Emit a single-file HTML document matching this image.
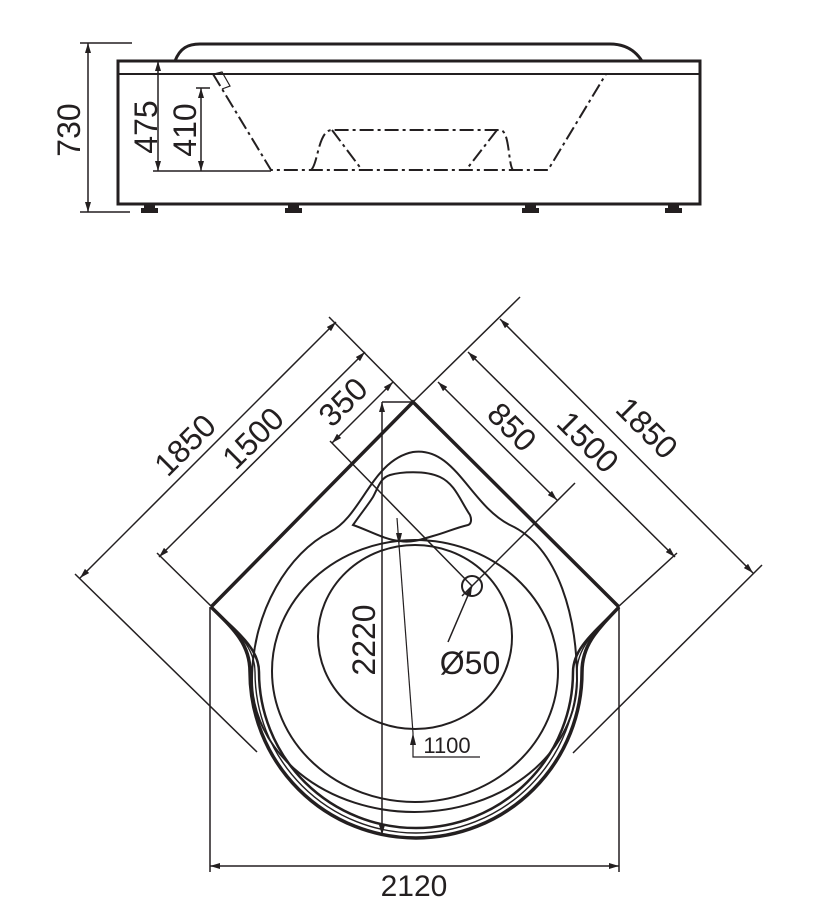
<!DOCTYPE html>
<html><head><meta charset="utf-8"><style>
html,body{margin:0;padding:0;background:#fff;}
svg{display:block;}
text{font-family:"Liberation Sans",sans-serif;fill:#231f20;}
</style></head><body>
<svg width="839" height="920" viewBox="0 0 839 920" xmlns="http://www.w3.org/2000/svg">
<defs>
<marker id="a" viewBox="0 0 10 6" refX="10" refY="3" markerWidth="10" markerHeight="6" markerUnits="userSpaceOnUse" orient="auto-start-reverse">
<path d="M0,0 L10,3 L0,6 Z" fill="#231f20"/>
</marker>
</defs>
<g stroke="#231f20" fill="none" stroke-linecap="butt">
<rect x="118" y="61" width="582" height="143" stroke-width="3"/>
<line x1="118" y1="74" x2="700" y2="74" stroke-width="2"/>
<path d="M175,61 C180,48 188,44 200,44 L610,44 C625,44 635,50 642,61" stroke-width="3"/>
<g fill="#231f20" stroke="none">
<rect x="144" y="204" width="11" height="4"/><rect x="141" y="208" width="17" height="5"/>
<rect x="288" y="204" width="11" height="4"/><rect x="285" y="208" width="17" height="5"/>
<rect x="525" y="204" width="11" height="4"/><rect x="522" y="208" width="17" height="5"/>
<rect x="668" y="204" width="11" height="4"/><rect x="665" y="208" width="17" height="5"/>
</g>
<g stroke-width="2" stroke-dasharray="14,4,3,4">
<path d="M213,74 L271,170 L548,170 L606,74"/>
<path d="M311,170 C318,165 318,130 332,130 L500,130 C510,130 508,165 513,170"/>
<path d="M332,130 L362,170 M497,130 L466,170"/>
</g>
<path d="M214,74 L222,72 L230,86 L222,89" stroke-width="1.2"/>
<line x1="153" y1="171" x2="271" y2="171" stroke-width="1.5"/>
<line x1="80" y1="43" x2="132" y2="43" stroke-width="1.5"/>
<line x1="80" y1="212" x2="130" y2="212" stroke-width="1.5"/>
<line x1="88" y1="43" x2="88" y2="212" stroke-width="1.5" marker-start="url(#a)" marker-end="url(#a)"/>
<line x1="158" y1="61" x2="158" y2="171" stroke-width="1.5" marker-start="url(#a)" marker-end="url(#a)"/>
<line x1="201" y1="88" x2="201" y2="171" stroke-width="1.5" marker-start="url(#a)" marker-end="url(#a)"/>
<line x1="196" y1="88" x2="210" y2="88" stroke-width="1.5"/>

<path d="M211,607 L413,402 L619,607" stroke-width="3.5"/>
<path d="M211,607 C235,630 250,645 250,672 A166,166 0 0 0 582,672 C582,645 597,630 619,607" stroke-width="3.5"/>
<path d="M213,609 C238,632 255,648 255,672 A161,161 0 0 0 577,672 C577,648 594,632 617,609" stroke-width="1.4"/>
<path d="M215,611 C241,635 259,650 259,672 A157,156 0 0 0 573,672 C573,650 591,635 615,611" stroke-width="2.5"/>
<path d="M252,680 C252,610 290,552 330,532 C362,516 372,460 413,452 C455,446 470,505 510,525 C560,548 577,620 577,680 A162.5,132 0 0 1 252,680 Z" stroke-width="2"/>
<ellipse cx="415" cy="671" rx="143" ry="131" stroke-width="2"/>
<ellipse cx="415" cy="637" rx="97" ry="92" stroke-width="2"/>
<path d="M353,525 C362,512 368,505 373,497 C378,488 380,478 390,475 C400,472 425,470 440,477 C455,484 460,500 470,515 C472,520 471,524 468,525 C455,528 445,533 433,536 C420,540 410,543 400,541 C385,540 368,530 353,525 Z" stroke-width="2"/>
<line x1="382" y1="402" x2="413" y2="402" stroke-width="1.5"/>
<line x1="382" y1="402" x2="382" y2="835" stroke-width="1.5" marker-start="url(#a)" marker-end="url(#a)"/>
<line x1="397" y1="518" x2="413" y2="733" stroke-width="1.2"/>
<path d="M396,533 L399,545 L402,533 Z M410,745 L413,733 L416,745 Z" fill="#231f20" stroke="none"/>
<path d="M413,733 L413,757 L480,757" stroke-width="1.2"/>
<circle cx="472" cy="586" r="10" stroke-width="2"/>
<line x1="575" y1="483" x2="462" y2="596" stroke-width="1.5"/>
<line x1="472" y1="586" x2="448" y2="642" stroke-width="1.5" marker-start="url(#a)"/>
<line x1="330" y1="441" x2="472" y2="586" stroke-width="1.5"/>
<line x1="329" y1="317" x2="413" y2="402" stroke-width="1.5"/>
<line x1="75" y1="574" x2="257" y2="752" stroke-width="1.5"/>
<line x1="157" y1="553" x2="212" y2="607" stroke-width="1.5"/>
<line x1="80" y1="578" x2="336" y2="322" stroke-width="1.5" marker-start="url(#a)" marker-end="url(#a)"/>
<line x1="159" y1="557" x2="365" y2="352" stroke-width="1.5" marker-start="url(#a)" marker-end="url(#a)"/>
<line x1="332" y1="443" x2="393" y2="382" stroke-width="1.5" marker-start="url(#a)" marker-end="url(#a)"/>
<line x1="520" y1="297" x2="413" y2="402" stroke-width="1.5"/>
<line x1="762" y1="565" x2="573" y2="753" stroke-width="1.5"/>
<line x1="677" y1="553" x2="618" y2="607" stroke-width="1.5"/>
<line x1="500" y1="319" x2="753" y2="573" stroke-width="1.5" marker-start="url(#a)" marker-end="url(#a)"/>
<line x1="468" y1="352" x2="675" y2="557" stroke-width="1.5" marker-start="url(#a)" marker-end="url(#a)"/>
<line x1="438" y1="382" x2="557" y2="500" stroke-width="1.5" marker-start="url(#a)" marker-end="url(#a)"/>
<line x1="210" y1="607" x2="210" y2="872" stroke-width="1.5"/>
<line x1="619" y1="607" x2="619" y2="872" stroke-width="1.5"/>
<line x1="210" y1="866" x2="619" y2="866" stroke-width="1.5" marker-start="url(#a)" marker-end="url(#a)"/>
</g>
<g font-size="32" text-anchor="middle">
<text transform="translate(69,130) rotate(-90)" x="0" y="11">730</text>
<text transform="translate(146,127) rotate(-90)" x="0" y="11">475</text>
<text transform="translate(185,130) rotate(-90)" x="0" y="11">410</text>
<text transform="translate(364,640) rotate(-90)" x="0" y="11">2220</text>
<text transform="translate(185,445) rotate(-45)" x="0" y="11">1850</text>
<text transform="translate(253,438) rotate(-45)" x="0" y="11">1500</text>
<text transform="translate(343,402) rotate(-45)" x="0" y="11">350</text>
<text transform="translate(512,427) rotate(45)" x="0" y="11">850</text>
<text transform="translate(588,442) rotate(45)" x="0" y="11">1500</text>
<text transform="translate(647,428) rotate(45)" x="0" y="11">1850</text>
<text x="414" y="896" font-size="30">2120</text>
<text x="470" y="674" font-size="32">Ø50</text>
<text x="447" y="753" font-size="22">1100</text>
</g>
</svg>
</body></html>
